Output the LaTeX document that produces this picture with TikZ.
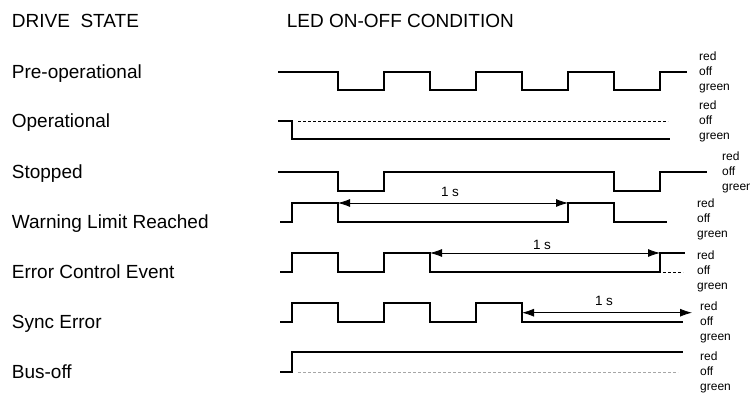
\documentclass[tikz,border=0pt]{standalone}
\usepackage{fontspec}
\setmainfont{Liberation Sans}
\usetikzlibrary{arrows.meta}
\begin{document}
\begin{tikzpicture}[x=1pt,y=-1pt,
  sig/.style={line width=1.8pt, line join=miter},
  dim/.style={line width=0.8pt, {Latex[length=12pt,width=8pt]}-{Latex[length=12pt,width=8pt]}},
  dsh/.style={line width=0.8pt, dash pattern=on 3pt off 2pt},
  state/.style={anchor=base west, inner sep=0pt, font=\fontsize{19}{22}\selectfont},
  lvl/.style={anchor=base west, inner sep=0pt, font=\fontsize{12}{14}\selectfont},
  dur/.style={anchor=base, inner sep=0pt, font=\fontsize{13.5}{16}\selectfont}]
\useasboundingbox (0,0) rectangle (750,392);
\fill[white] (0,0) rectangle (750,392);

% headers
\node[state] (hdrA) at (11.7,27.3) {DRIVE\ \ STATE};
\node[state] (hdrB) at (286.7,27.3) {LED ON-OFF CONDITION};

% state names
\node[state] (s1) at (11.7,78.5) {Pre-operational};
\node[state] (s2) at (11.7,127.5) {Operational};
\node[state] (s3) at (11.7,178.5) {Stopped};
\node[state] (s4) at (11.7,228.5) {Warning Limit Reached};
\node[state] (s5) at (11.7,278.5) {Error Control Event};
\node[state] (s6) at (11.7,328.5) {Sync Error};
\node[state] (s7) at (11.7,378.5) {Bus-off};

% level labels
\foreach \i/\x/\y in {1/699/72, 2/699/121, 3/722/172, 4/697/219, 5/697/271, 6/700/322, 7/700/372} {
  \node[lvl] (red\i) at (\x,\y-15+3.5) {red};
  \node[lvl] (off\i) at (\x,\y+3.5) {off};
  \node[lvl] (green\i) at (\x,\y+15+3.5) {green};
}

% Pre-operational
\draw[sig] (278,72) -| (338,90) -| (384,72) -| (430,90) -| (476,72) -| (522,90) -| (568,72) -| (614,90) -| (660,72) -- (687,72);

% Operational
\draw[sig] (278,121) -| (292,139) -- (670,139);
\draw[dsh] (298,121) -- (668,121);

% Stopped
\draw[sig] (278,172) -| (338,191) -| (384,172) -| (614,191) -| (660,172) -- (707,172);

% Warning Limit Reached
\draw[sig] (280,222) -| (292,203) -| (338,222) -| (568,203) -| (614,222) -- (667,222);
\coordinate (w1) at (338,203);
\coordinate (w2) at (568,203);
\draw[dim] (w1) -- (w2);
\node[dur] (t4) at (450,196.5) {1 s};

% Error Control Event
\draw[sig] (280,272) -| (292,253) -| (338,272) -| (384,253) -| (430,272) -| (660,253) -- (685,253);
\draw[dsh] (663,272) -- (683,272);
\coordinate (e1) at (430,253);
\coordinate (e2) at (660,253);
\draw[dim] (e1) -- (e2);
\node[dur] (t5) at (542,249.5) {1 s};

% Sync Error
\draw[sig] (280,322) -| (292,303) -| (338,322) -| (384,303) -| (430,322) -| (476,303) -| (522,322) -- (683,322);
\coordinate (y1) at (522,312.7);
\coordinate (y2) at (692,312.7);
\draw[dim] (y1) -- (y2);
\node[dur] (t6) at (604,305.5) {1 s};

% Bus-off
\draw[sig] (280,372) -| (292,352) -- (683,352);
\draw[dsh, gray!70, line width=0.7pt] (298,372) -- (678,372);
\end{tikzpicture}
\end{document}
